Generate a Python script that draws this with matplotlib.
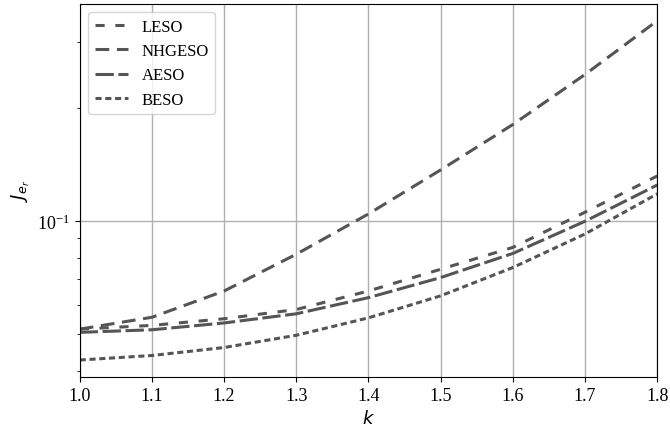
import numpy as np
import matplotlib
matplotlib.use("Agg")
import matplotlib.pyplot as plt
from matplotlib.ticker import NullFormatter

plt.rcParams['font.family'] = 'serif'
plt.rcParams['font.serif'] = ['Liberation Serif', 'DejaVu Serif']
plt.rcParams['font.size'] = 12

k = [1.0, 1.1, 1.2, 1.3, 1.4, 1.5, 1.6, 1.7, 1.8]

# values
leso = [0.0516, 0.0528, 0.0550, 0.0582, 0.0652, 0.0745, 0.0852, 0.1057, 0.132]
nhgeso = [0.0516, 0.0555, 0.0652, 0.0817, 0.1046, 0.137, 0.181, 0.246, 0.342]
aeso = [0.0506, 0.0514, 0.0536, 0.0567, 0.0626, 0.0708, 0.0821, 0.100, 0.1249]
beso = [0.0427, 0.0439, 0.0461, 0.0497, 0.0553, 0.0633, 0.0753, 0.0925, 0.1183]

col = '#555555'
lw = 2.2

fig = plt.figure(figsize=(6.7, 4.31), dpi=100)
ax = fig.add_axes([0.119, 0.123, 0.862, 0.866])

ax.plot(k, leso, color=col, lw=lw, ls=(0, (3, 3.5)), label='LESO')
ax.plot(k, nhgeso, color=col, lw=lw, ls=(0, (4.5, 2.5)), label='NHGESO')
ax.plot(k, aeso, color=col, lw=lw, ls=(0, (6, 1.5)), label='AESO')
ax.plot(k, beso, color=col, lw=lw, ls=(0, (2, 1.2)), label='BESO')

ax.set_yscale('log')
ax.yaxis.set_minor_formatter(NullFormatter())
ax.set_xlim(1.0, 1.8)
ax.set_xticks(k)
ax.grid(True, which='major', color='#b0b0b0', lw=1)
ax.tick_params(labelsize=13)
ax.set_xlabel('$k$', fontsize=13)
ax.set_ylabel('$J_{e_r}$', fontsize=13)

ax.legend(loc='upper left', fontsize=12)

fig.savefig('out.png', dpi=100)
